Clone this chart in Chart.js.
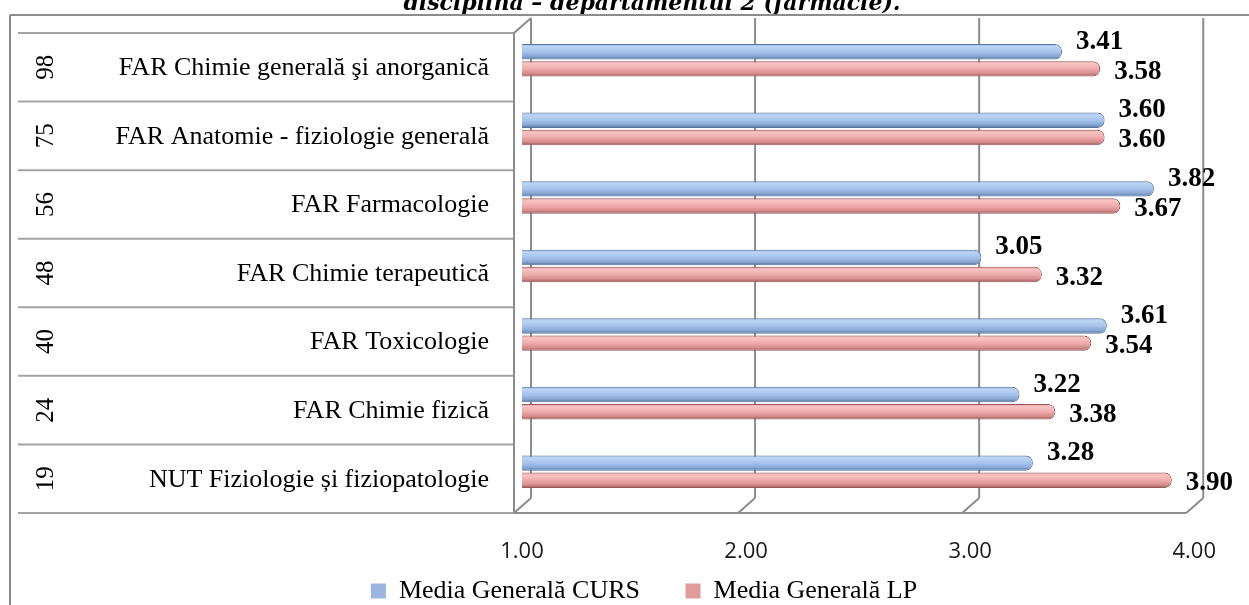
<!DOCTYPE html>
<html>
<head>
<meta charset="utf-8">
<script src="https://cdn.jsdelivr.net/npm/chart.js@4"></script>
<style>
  body { margin: 0; background: #fff; }
</style>
</head>
<body>
<canvas id="mediiDisciplina" width="1249" height="605"></canvas>
<script>
const titlu = 'disciplină – departamentul 2 (farmacie).';
const coduri = ['98', '75', '56', '48', '40', '24', '19'];
const discipline = [
    'FAR Chimie generală şi anorganică',
    'FAR Anatomie - fiziologie generală',
    'FAR Farmacologie',
    'FAR Chimie terapeutică',
    'FAR Toxicologie',
    'FAR Chimie fizică',
    'NUT Fiziologie și fiziopatologie'
];
const mediaCurs = [3.41, 3.60, 3.82, 3.05, 3.61, 3.22, 3.28];
const mediaLP = [3.58, 3.60, 3.67, 3.32, 3.54, 3.38, 3.90];
const axaMin = 1;
const axaMax = 4;

// culori pentru efectul de cilindru (sus -> jos)
const stopuriAlbastru = [[0, '#86a7d6'], [0.15, '#bdd4f4'], [0.5, '#a6c3ec'], [0.8, '#87a6d3'], [1, '#4f6e9a']];
const stopuriRosu = [[0, '#d48a8a'], [0.15, '#f8c4c4'], [0.5, '#efabab'], [0.8, '#d58b8b'], [1, '#965555']];

// decalaje 3D fata de planul barelor
const DX_FATA = -8, DY_FATA = 7, DX_SPATE = 9, DY_SPATE = -8;

function linie(ctx, x1, y1, x2, y2) {
    ctx.beginPath();
    ctx.moveTo(x1, y1);
    ctx.lineTo(x2, y2);
    ctx.stroke();
}

const tabel3d = {
    id: 'tabel3d',
    beforeDatasetsDraw(chart) {
        const { ctx, chartArea: a, scales: { x, y } } = chart;
        ctx.save();

        // titlul (taiat sus)
        ctx.fillStyle = '#000';
        ctx.font = 'italic bold 22px "DejaVu Serif"';
        ctx.textAlign = 'center';
        ctx.textBaseline = 'alphabetic';
        ctx.fillText(titlu, 652, 10);

        // chenarul graficului
        ctx.strokeStyle = '#8c8c8c';
        ctx.lineWidth = 2;
        linie(ctx, 10, 15, 1249, 15);
        linie(ctx, 10, 15, 10, 605);

        const pas = y.getPixelForValue(1) - y.getPixelForValue(0);
        const xFata = x.getPixelForValue(axaMin) + DX_FATA;
        const susFata = a.top + DY_FATA, josFata = a.bottom + DY_FATA;
        const susSpate = a.top + DY_SPATE, josSpate = a.bottom + DY_SPATE;

        // liniile tabelului
        ctx.strokeStyle = '#a3a3a3';
        for (let i = 0; i <= discipline.length; i++) {
            const yy = y.getPixelForValue(i) - pas / 2 + DY_FATA;
            linie(ctx, 18, yy, xFata, yy);
        }

        // peretii 3D si liniile de grila
        ctx.strokeStyle = '#8c8c8c';
        x.ticks.forEach(t => {
            const px = x.getPixelForValue(t.value);
            linie(ctx, px + DX_SPATE, susSpate, px + DX_SPATE, josSpate);
            linie(ctx, px + DX_SPATE, josSpate, px + DX_FATA, josFata);
        });
        linie(ctx, xFata, susFata, xFata, josFata);
        linie(ctx, xFata, susFata, x.getPixelForValue(axaMin) + DX_SPATE, susSpate);
        linie(ctx, xFata, josFata, x.getPixelForValue(axaMax) + DX_FATA, josFata);

        // textele din tabel
        ctx.fillStyle = '#000';
        ctx.textBaseline = 'middle';
        discipline.forEach((nume, i) => {
            const cy = y.getPixelForValue(i) + DY_FATA;
            ctx.font = '26px "Liberation Serif"';
            ctx.textAlign = 'right';
            ctx.fillText(nume, 489, cy + 1);
            ctx.save();
            ctx.translate(46, cy);
            ctx.rotate(-Math.PI / 2);
            ctx.textAlign = 'center';
            ctx.font = '25px "Liberation Serif"';
            ctx.fillText(coduri[i], 0, 0);
            ctx.restore();
        });

        // gradient de cilindru pe fiecare bara
        chart.data.datasets.forEach((ds, di) => {
            const stopuri = di === 0 ? stopuriAlbastru : stopuriRosu;
            chart.getDatasetMeta(di).data.forEach(bar => {
                const g = ctx.createLinearGradient(0, bar.y - bar.height / 2, 0, bar.y + bar.height / 2);
                stopuri.forEach(([o, c]) => g.addColorStop(o, c));
                bar.options.backgroundColor = g;
            });
        });
        ctx.restore();
    },
    afterDatasetsDraw(chart) {
        const { ctx } = chart;
        ctx.save();
        ctx.fillStyle = '#000';
        ctx.font = 'bold 27px "Liberation Serif"';
        ctx.textAlign = 'left';
        ctx.textBaseline = 'middle';
        chart.data.datasets.forEach((ds, di) => {
            chart.getDatasetMeta(di).data.forEach((bar, i) => {
                ctx.fillText(ds.data[i].toFixed(2), bar.x + 14, bar.y + (di === 0 ? -10 : 3));
            });
        });
        ctx.restore();
    }
};

const data = {
    labels: discipline,
    datasets: [{
        label: 'Media Generală CURS',
        data: mediaCurs,
        backgroundColor: () => '#a6c3ec',
        borderColor: '#56759f',
        borderWidth: 1,
        borderRadius: 7,
        borderSkipped: 'start'
    },
    {
        label: 'Media Generală LP',
        data: mediaLP,
        backgroundColor: () => '#efabab',
        borderColor: '#9c5a5a',
        borderWidth: 1,
        borderRadius: 7,
        borderSkipped: 'start'
    }]
};

const config = {
    type: 'bar',
    data: data,
    options: {
        indexAxis: 'y',
        responsive: false,
        animation: false,
        layout: {
            padding: { left: 90, right: 51, top: 26, bottom: -9 }
        },
        datasets: {
            bar: { categoryPercentage: 0.5, barPercentage: 0.9 }
        },
        plugins: {
            tooltip: { enabled: false },
            legend: {
                position: 'bottom',
                labels: {
                    boxWidth: 15,
                    boxHeight: 15,
                    padding: 13,
                    color: '#000',
                    font: { family: 'Liberation Serif', size: 26 },
                    // spatiu suplimentar intre cele doua intrari
                    generateLabels: (chart) => chart.data.datasets.map((ds, i) => ({
                        text: i === 0 ? ds.label + '\u2003\u2005' : ds.label,
                        fillStyle: i === 0 ? '#9ab6de' : '#e29b9b',
                        strokeStyle: i === 0 ? '#9ab6de' : '#e29b9b',
                        lineWidth: 0,
                        datasetIndex: i
                    }))
                }
            }
        },
        scales: {
            x: {
                type: 'linear',
                min: axaMin,
                max: axaMax,
                grid: { display: false, drawTicks: false },
                border: { display: false },
                ticks: {
                    stepSize: 1,
                    padding: 33,
                    color: '#1a1a1a',
                    font: { family: 'Open Sans', size: 22 },
                    callback: v => v.toFixed(2)
                },
                afterFit: s => { s.height = 59; }
            },
            y: {
                type: 'category',
                grid: { display: false, drawTicks: false },
                border: { display: false },
                ticks: { display: false },
                afterFit: s => { s.width = 432; }
            }
        }
    },
    plugins: [tabel3d]
};

const grafic = new Chart(document.getElementById('mediiDisciplina').getContext('2d'), config);
</script>
</body>
</html>
